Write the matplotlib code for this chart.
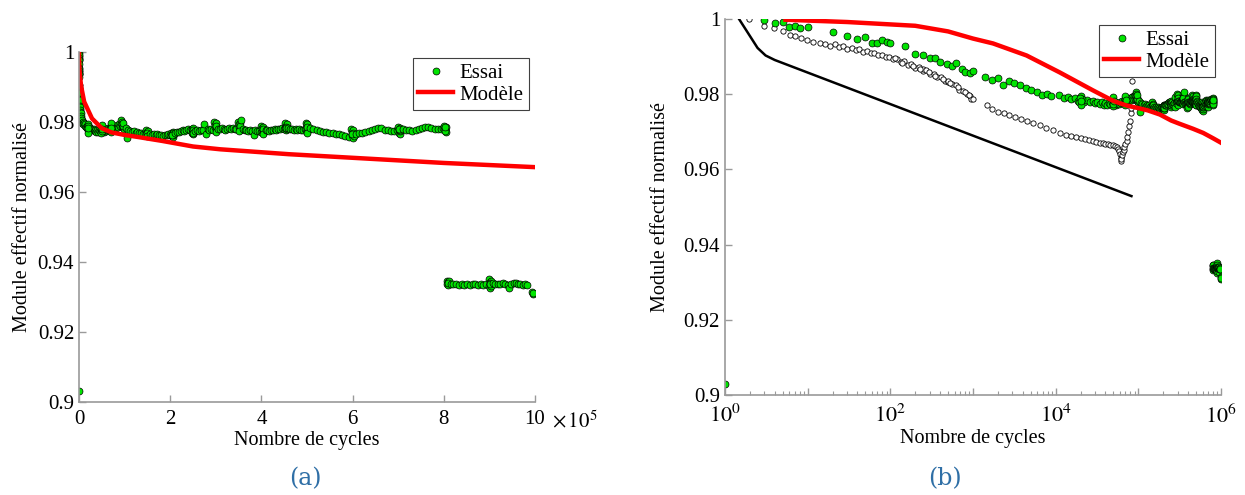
import matplotlib
matplotlib.use('Agg')
import matplotlib.pyplot as plt
import numpy as np

plt.rcParams['font.family'] = ['Liberation Serif', 'DejaVu Serif']
plt.rcParams['mathtext.fontset'] = 'stix'

# --- Essai (cycles, module normalise) ---
essai_start_n = [1, 3, 4, 5, 6, 7, 8, 10, 20, 30, 40, 50, 60, 70, 80, 90, 100,
                 150, 200, 250, 300, 350, 400, 480, 550, 620, 730, 810, 920, 1000,
                 1400, 1700, 2000, 2300, 2700, 3100, 3700, 4400, 5100, 5900, 6800,
                 7800, 8900]
essai_start_v = [0.903, 0.9998, 0.9989, 0.9992, 0.9980, 0.9982, 0.9976, 0.9978,
                 0.9965, 0.9955, 0.9947, 0.9952, 0.9936, 0.9936, 0.9945, 0.9939,
                 0.9936, 0.9929, 0.9907, 0.9905, 0.9896, 0.9896, 0.9885, 0.9880,
                 0.9874, 0.9883, 0.9867, 0.9858, 0.9856, 0.9862, 0.9847, 0.9838,
                 0.9844, 0.9825, 0.9835, 0.9829, 0.9825, 0.9816, 0.9811, 0.9807,
                 0.9798, 0.9800, 0.9794]

essai_mid_kc = [
    11, 12.5, 14, 15.5, 17, 18.5, 20, 22, 24, 26, 28, 30, 32, 34, 36, 38, 40,
    42, 44, 46, 48, 50, 52, 54, 56, 58, 60, 62, 64, 66, 68, 70, 72, 74, 76, 78,
    80, 82, 84, 86, 88, 90, 92, 94, 96, 98, 100,
    19, 20, 21, 20, 19.5, 20.5,
    49, 50, 51, 50, 49.5, 50.5,
    69, 70, 71, 70, 69.5, 70.5,
    93, 94, 95, 96, 97, 98, 95.5, 96.5,
    106, 102, 108, 112, 116, 120, 124, 128, 132, 136, 140, 144,
    147, 148, 149, 150, 151, 152, 150, 149.5,
    156, 160, 164, 168, 172, 176, 180, 184, 188, 192, 196, 200,
    202, 203, 204, 205, 206, 207, 205, 204.5,
    211, 215, 219, 223, 227, 231, 235, 239, 243, 247,
    247, 248, 249, 250, 251, 252, 250, 249.5,
    255, 259, 263, 267, 271, 275, 278, 282, 286, 290, 294,
    297, 298, 299, 300, 301, 302, 300, 299.5,
    305, 309, 313, 317, 321, 325, 329, 333, 337, 341, 345,
    349, 350, 351, 352, 353, 354, 352, 351.5, 356,
    359, 363, 367, 371, 375, 379, 383, 387, 391, 395, 399,
    400, 401, 402, 403, 404, 405, 403, 402.5,
    409, 413, 417, 421, 425, 429, 433, 437, 441, 445, 449,
    451, 452, 453, 454, 455, 456, 454, 453.5,
    459, 463, 467, 471, 475, 479, 483, 487, 491, 495,
    497, 498, 499, 500, 501, 502, 500, 499.5,
    507, 514, 521, 528, 535, 542, 549, 556, 563, 570, 577, 584, 591,
    597, 598, 599, 600, 601, 602, 600, 599.5,
    607, 614, 621, 628, 635, 642, 649, 656, 663, 670, 677, 684, 691, 697,
    700, 701, 702, 703, 704, 705, 703, 702.5,
    710, 717, 724, 731, 738, 745, 752, 759, 766, 773, 780, 787, 793, 798,
    801, 802, 803, 804, 805, 803, 802.5, 803.5]
essai_mid_v = [
    0.9797, 0.9790, 0.9793, 0.9786, 0.9789, 0.9783, 0.9786, 0.9780, 0.9784,
    0.9778, 0.9781, 0.9776, 0.9779, 0.9774, 0.9778, 0.9772, 0.9776, 0.9771,
    0.9777, 0.9773, 0.9779, 0.9774, 0.9778, 0.9772, 0.9777, 0.9775, 0.9780,
    0.9776, 0.9782, 0.9777, 0.9783, 0.9779, 0.9785, 0.9780, 0.9787, 0.9782,
    0.9790, 0.9784, 0.9792, 0.9786, 0.9795, 0.9788, 0.9797, 0.9785, 0.9790,
    0.9783, 0.9780,
    0.9778, 0.9795, 0.9786, 0.9770, 0.9790, 0.9782,
    0.9769, 0.9785, 0.9778, 0.9792, 0.9773, 0.9781,
    0.9772, 0.9788, 0.9780, 0.9796, 0.9776, 0.9784,
    0.9805, 0.9800, 0.9795, 0.9790, 0.9785, 0.9780, 0.9788, 0.9798,
    0.9753, 0.9782, 0.9776, 0.9774, 0.9771, 0.9773, 0.9769, 0.9771, 0.9768,
    0.9770, 0.9767, 0.9769,
    0.9778, 0.9765, 0.9772, 0.9768, 0.9775, 0.9763, 0.9770, 0.9760,
    0.9766, 0.9764, 0.9766, 0.9763, 0.9765, 0.9762, 0.9764, 0.9761, 0.9764,
    0.9762, 0.9765, 0.9763,
    0.9770, 0.9760, 0.9766, 0.9758, 0.9772, 0.9764, 0.9768, 0.9762,
    0.9770, 0.9772, 0.9771, 0.9774, 0.9776, 0.9775, 0.9778, 0.9780, 0.9777,
    0.9779,
    0.9780, 0.9768, 0.9775, 0.9765, 0.9782, 0.9772, 0.9777, 0.9770,
    0.9775, 0.9778, 0.9774, 0.9777, 0.9776, 0.9793, 0.9766, 0.9779, 0.9776,
    0.9780, 0.9778,
    0.9800, 0.9785, 0.9792, 0.9776, 0.9797, 0.9781, 0.9789, 0.9772,
    0.9781, 0.9779, 0.9782, 0.9780, 0.9778, 0.9781, 0.9783, 0.9780, 0.9782,
    0.9779, 0.9781,
    0.9800, 0.9786, 0.9793, 0.9777, 0.9797, 0.9782, 0.9789, 0.9774, 0.9807,
    0.9779, 0.9776, 0.9778, 0.9775, 0.9777, 0.9774, 0.9763, 0.9776, 0.9773,
    0.9775, 0.9772,
    0.9790, 0.9775, 0.9783, 0.9768, 0.9787, 0.9772, 0.9779, 0.9765,
    0.9776, 0.9778, 0.9775, 0.9778, 0.9776, 0.9779, 0.9777, 0.9781, 0.9779,
    0.9783, 0.9781,
    0.9797, 0.9782, 0.9790, 0.9777, 0.9794, 0.9780, 0.9787, 0.9784,
    0.9782, 0.9779, 0.9781, 0.9778, 0.9780, 0.9777, 0.9779, 0.9776, 0.9778,
    0.9780,
    0.9798, 0.9780, 0.9791, 0.9772, 0.9795, 0.9777, 0.9786, 0.9770,
    0.9782, 0.9779, 0.9776, 0.9774, 0.9772, 0.9771, 0.9769, 0.9768, 0.9766,
    0.9765, 0.9763, 0.9761, 0.9758,
    0.9780, 0.9762, 0.9772, 0.9755, 0.9777, 0.9760, 0.9768, 0.9765,
    0.9766, 0.9768, 0.9770, 0.9771, 0.9773, 0.9777, 0.9780, 0.9784, 0.9782,
    0.9778, 0.9776, 0.9775, 0.9774, 0.9776,
    0.9785, 0.9770, 0.9778, 0.9767, 0.9782, 0.9773, 0.9776, 0.9780,
    0.9779, 0.9778, 0.9776, 0.9775, 0.9777, 0.9781, 0.9784, 0.9786, 0.9785,
    0.9783, 0.9781, 0.9780, 0.9779, 0.9782,
    0.9789, 0.9777, 0.9784, 0.9772, 0.9787, 0.9780, 0.9775, 0.9785]

# palier final a ~0.933 (kilocycles)
essai_end_kc = [807, 808, 809, 810, 811, 809,
                815, 821, 827, 833, 839, 845, 851, 857, 863, 869, 875, 881, 887, 893,
                899, 900, 901, 902, 903, 904, 902, 901.5,
                908, 913, 919, 924, 930, 935, 941, 944, 948, 953, 958, 963, 968,
                973, 978, 983,
                994, 995, 996]
essai_end_v = [0.9347, 0.9336, 0.9342, 0.9333, 0.9345, 0.9339,
               0.9338, 0.9336, 0.9337, 0.9334, 0.9336, 0.9335, 0.9337, 0.9335,
               0.9338, 0.9336, 0.9334, 0.9336, 0.9335, 0.9337,
               0.9350, 0.9332, 0.9344, 0.9325, 0.9347, 0.9330, 0.9340, 0.9337,
               0.9341, 0.9338, 0.9336, 0.9337, 0.9339, 0.9336, 0.9334, 0.9326,
               0.9336, 0.9339, 0.9340, 0.9338, 0.9336, 0.9334, 0.9337, 0.9335,
               0.9314, 0.9308, 0.9311]

# --- Modele ---
modele_n = [5.4, 30, 200, 500, 1000, 1750, 4450, 11200, 28400, 50000, 72000,
            100000, 130000, 182000, 250000, 310000, 460000, 610000, 800000, 1000000]
modele_v = [0.9998, 0.9992, 0.9982, 0.9967, 0.9948, 0.9935, 0.9903, 0.9858,
            0.9810, 0.9782, 0.9770, 0.9763, 0.9757, 0.9746, 0.9730, 0.9722,
            0.9708, 0.9697, 0.9683, 0.9671]

# --- courbe et essai de reference (vue log seulement) ---
ref_line_n = [1.48, 2.48, 3.1, 4.0, 82600]
ref_line_v = [1.0, 0.9923, 0.9903, 0.9891, 0.9529]

ref_pts_n = [1.97, 3.0, 3.95, 5.07, 6.1, 7.0, 8.3, 9.7, 11.7, 14, 16.2, 18.6,
             21.3, 24, 27, 30, 34, 38, 42, 47, 52, 58, 64, 71, 79, 88, 97, 108,
             120, 133, 147, 163, 180, 200, 222, 246, 250, 272, 302, 334, 370,
             410, 455, 500, 504, 558, 618, 685, 759, 841, 932, 950, 1000,
             115, 140, 190, 230, 290, 350, 430, 530, 650, 800, 900,
             1460, 1700, 2020, 2350, 2700, 3230, 3800, 4450, 5300, 6440, 7700,
             9340, 11200, 13500, 15500, 17500, 20000, 22500, 25000, 28000,
             31000, 34000, 37000, 40000, 43000, 46000, 49000, 52000, 55000,
             57000, 59000, 60500, 61500, 62000, 62500, 63500, 65000, 66500,
             68000, 70000, 72000, 74000, 76000, 78000, 80000, 81500, 82500,
             83000, 83500]
ref_pts_v = [1.0, 0.9982, 0.9976, 0.9967, 0.9958, 0.9954, 0.9949, 0.9945,
             0.9938, 0.9936, 0.9933, 0.9927, 0.9934, 0.9926, 0.9928, 0.9921,
             0.9923, 0.9917, 0.9919, 0.9913, 0.9915, 0.9909, 0.9910, 0.9904,
             0.9905, 0.9899, 0.9900, 0.9893, 0.9894, 0.9886, 0.9887, 0.9879,
             0.9880, 0.9871, 0.9872, 0.9863, 0.9868, 0.9864, 0.9854, 0.9855,
             0.9845, 0.9846, 0.9836, 0.9832, 0.9836, 0.9826, 0.9824, 0.9812,
             0.9809, 0.9800, 0.9795, 0.9788, 0.9786,
             0.9897, 0.9884, 0.9876, 0.9868, 0.9860, 0.9849, 0.9840, 0.9830,
             0.9818, 0.9806, 0.9798,
             0.9770, 0.9760, 0.9754, 0.9750, 0.9746, 0.9740, 0.9735, 0.9729,
             0.9724, 0.9718, 0.9711, 0.9705, 0.9698, 0.9691, 0.9689, 0.9685,
             0.9683, 0.9680, 0.9678, 0.9676, 0.9674, 0.9671, 0.9670, 0.9668,
             0.9667, 0.9665, 0.9664, 0.9662, 0.9660, 0.9655, 0.9648, 0.9640,
             0.9630, 0.9622, 0.9627, 0.9638, 0.9645, 0.9652, 0.9660, 0.9668,
             0.9676, 0.9685, 0.9700, 0.9715, 0.9730, 0.9750, 0.9763, 0.9794,
             0.9835]

essai_n = np.concatenate([essai_start_n,
                          np.array(essai_mid_kc) * 1000,
                          np.array(essai_end_kc) * 1000])
essai_v = np.concatenate([essai_start_v, essai_mid_v, essai_end_v])

green = '#00e400'
axis_grey = '#9a9a9a'
caption_blue = '#2f6fa6'

fig = plt.figure(figsize=(12.45, 4.95), dpi=100)
ax1 = fig.add_axes([0.0635, 0.1880, 0.3662, 0.7069])
ax2 = fig.add_axes([0.5823, 0.2020, 0.3984, 0.7596])


def style_axes(ax, ylabelpad, xpad):
    for s in ['top', 'right']:
        ax.spines[s].set_visible(False)
    for s in ['left', 'bottom']:
        ax.spines[s].set_color(axis_grey)
        ax.spines[s].set_linewidth(1.2)
    ax.tick_params(direction='in', length=5, width=1, color=axis_grey,
                   labelsize=15, labelcolor='black')
    ax.tick_params(axis='x', pad=xpad)
    ax.tick_params(which='minor', direction='in', length=3, width=0.8,
                   color=axis_grey)
    ax.set_ylim(0.9, 1.0)
    ax.set_yticks([0.9, 0.92, 0.94, 0.96, 0.98, 1.0])
    ax.set_yticklabels(['0.9', '0.92', '0.94', '0.96', '0.98', '1'])
    ax.set_ylabel('Module effectif normalisé', fontsize=14.5, labelpad=ylabelpad)
    ax.set_xlabel('Nombre de cycles', fontsize=14.5, labelpad=1)


def add_legend(ax):
    leg = ax.legend(loc='upper right', fontsize=15, frameon=True, fancybox=False,
                    edgecolor='#404040', framealpha=1, borderaxespad=0.3,
                    handlelength=1.7, handletextpad=0.3, borderpad=0.25,
                    labelspacing=0.1, numpoints=1)
    leg.get_frame().set_linewidth(0.8)


# (a) echelle lineaire
ax1.plot(essai_n / 1e5, essai_v, 'o', ms=5, mfc=green, mec='black', mew=0.5,
         label='Essai')
ax1.plot(np.array(modele_n) / 1e5, modele_v, '-', color='#ff0000', lw=3.2,
         label='Modèle')
style_axes(ax1, 4, 6)
ax1.set_xlim(0, 10)
ax1.set_xticks([0, 2, 4, 6, 8, 10])
ax1.annotate(r'$\times\,10^{5}$', xy=(1, 0), xycoords='axes fraction',
             xytext=(12, -6.5), textcoords='offset points', ha='left',
             va='top', fontsize=15)
add_legend(ax1)

# (b) echelle log
ax2.plot(ref_line_n, ref_line_v, '-', color='black', lw=1.8)
ax2.plot(ref_pts_n, ref_pts_v, 'o', ms=3.8, mfc='white', mec='black', mew=0.6)
ax2.plot(essai_n, essai_v, 'o', ms=5, mfc=green, mec='black', mew=0.5,
         label='Essai')
ax2.plot(modele_n, modele_v, '-', color='#ff0000', lw=3.2, label='Modèle')
ax2.set_xscale('log')
style_axes(ax2, 10, 7)
ax2.set_xlim(1, 1e6)
ax2.set_xticks([1, 1e1, 1e2, 1e3, 1e4, 1e5, 1e6])
ax2.set_xticklabels([r'$10^{0}$', '', r'$10^{2}$', '', r'$10^{4}$', '',
                     r'$10^{6}$'], fontsize=16)
add_legend(ax2)

fig.text(0.245, 0.032, '(a)', color=caption_blue, fontsize=17,
         family='DejaVu Serif', ha='center', va='center')
fig.text(0.759, 0.032, '(b)', color=caption_blue, fontsize=17,
         family='DejaVu Serif', ha='center', va='center')

fig.savefig('out.png', dpi=100)
